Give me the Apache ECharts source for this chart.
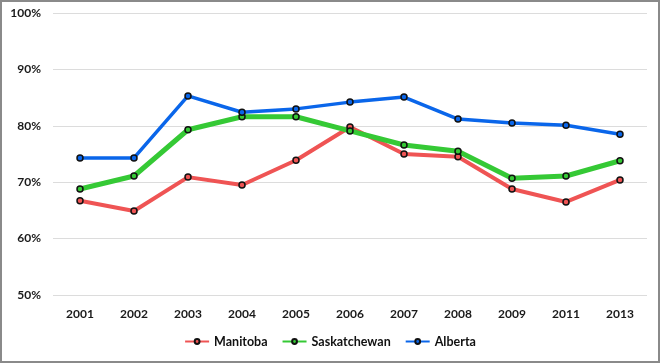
<!DOCTYPE html>
<html><head><meta charset="utf-8">
<script src="https://cdn.jsdelivr.net/npm/echarts@6/dist/echarts.min.js"></script>
<style>html,body{margin:0;padding:0;background:#fff}#c{width:660px;height:363px;box-sizing:border-box;border:2px solid #8a8a8a}</style>
</head><body><div id="c"></div>
<script>
const years = ['2001','2002','2003','2004','2005','2006','2007','2008','2009','2011','2013'];
const manitoba = [66.7,64.9,70.9,69.5,73.9,79.8,75.0,74.5,68.8,66.5,70.4];
const saskatchewan = [68.8,71.1,79.3,81.6,81.6,79.1,76.6,75.5,70.7,71.1,73.8];
const alberta = [74.3,74.3,85.3,82.4,83.0,84.2,85.1,81.2,80.5,80.1,78.5];

const font = 'Lato, Open Sans, sans-serif';
const chart = echarts.init(document.getElementById('c'));
function s(name, data, color, w){
  return {name, type:'line', data, symbol:'circle', symbolSize:6,
    lineStyle:{color, width:w}, itemStyle:{color, borderColor:'#111', borderWidth:1.5},
    emphasis:{disabled:true}};
}
chart.setOption({
  animation:false,
  grid:{left:51, right:11, top:11, bottom:66},
  legend:{bottom:8, left:'center', itemWidth:24, itemHeight:6, itemGap:14,
    textStyle:{fontFamily:font, fontSize:12.5, fontWeight:'bold', color:'#111'},
    data:['Manitoba','Saskatchewan','Alberta']},
  xAxis:{type:'category', data:years, boundaryGap:true,
    axisLine:{show:false}, axisTick:{show:false},
    axisLabel:{fontFamily:font, fontSize:12, fontWeight:'bold', color:'#1a1a1a', margin:13}},
  yAxis:{type:'value', min:50, max:100, interval:10,
    axisLabel:{formatter:'{value}%', fontFamily:font, fontSize:12, fontWeight:'bold', color:'#1a1a1a', margin:12},
    splitLine:{lineStyle:{color:'#dcdcdc', width:1}}},
  series:[
    s('Manitoba', manitoba, '#ef5454', 4),
    s('Saskatchewan', saskatchewan, '#35c935', 5),
    s('Alberta', alberta, '#0a66ea', 3.5)
  ]
});
</script></body></html>
